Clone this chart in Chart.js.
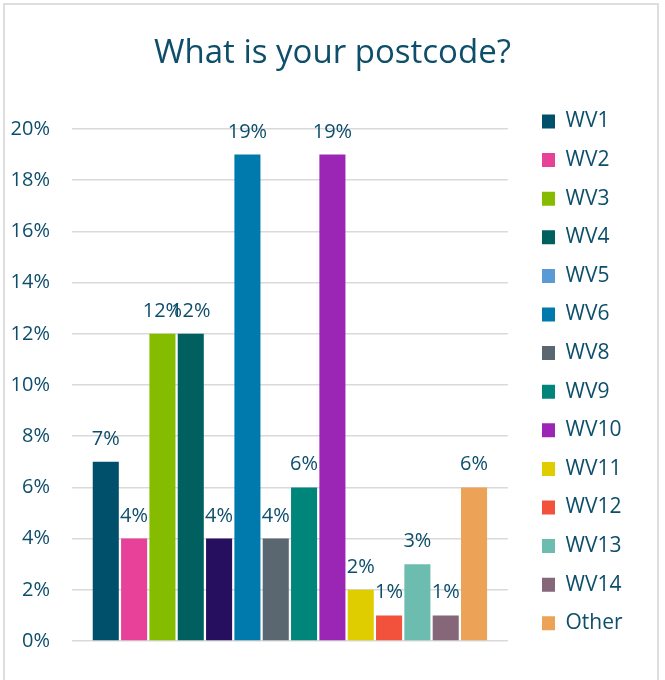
<!DOCTYPE html>
<html>
<head>
<meta charset="utf-8">
<script src="https://cdn.jsdelivr.net/npm/chart.js@4/dist/chart.umd.min.js"></script>
<style>
  html, body { margin: 0; padding: 0; background: #fff; }
  #wrap { position: relative; width: 665px; height: 680px; overflow: hidden; }
  #frame { position: absolute; left: 3px; top: 3px; width: 652px; height: 700px;
           border: 2px solid #dedede; pointer-events: none; }
  canvas { position: absolute; left: 0; top: 0; }
</style>
</head>
<body>
<div id="wrap">
  <canvas id="chart-postcode" width="665" height="680"></canvas>
  <div id="frame"></div>
</div>
<script>
var postcodes = ['WV1', 'WV2', 'WV3', 'WV4', 'WV5', 'WV6', 'WV8', 'WV9', 'WV10', 'WV11', 'WV12', 'WV13', 'WV14', 'Other'];
var shares = [7, 4, 12, 12, 4, 19, 4, 6, 19, 2, 1, 3, 1, 6];
var barColours = ['#004f6b', '#e8419a', '#86bc00', '#00605f', '#260f5f', '#007aad',
                  '#5a6670', '#00857b', '#9b26b5', '#e0cd00', '#f2513b', '#6dbcb0', '#866679', '#eca257'];
// the legend swatch for WV5 differs from its bar in the original
var legendColours = barColours.slice();
legendColours[4] = '#5b9bd5';

var textColour = '#0d4e6b';
var fontFamily = "'Open Sans', 'Noto Sans', sans-serif";

var datasetsPostcode = postcodes.map(function(name, i) {
    return {
        label: name,
        data: [shares[i]],
        backgroundColor: barColours[i],
        categoryPercentage: 0.91,
        barPercentage: 0.92
    };
});

// value labels above each bar
var barValueLabels = {
    id: 'barValueLabels',
    afterDatasetsDraw: function(chart) {
        var ctx = chart.ctx;
        ctx.save();
        ctx.fillStyle = textColour;
        ctx.font = '20px ' + fontFamily;
        ctx.textAlign = 'center';
        ctx.textBaseline = 'alphabetic';
        chart.data.datasets.forEach(function(ds, i) {
            var bar = chart.getDatasetMeta(i).data[0];
            ctx.fillText(ds.data[0] + '%', bar.x, bar.y - 17);
        });
        ctx.restore();
    }
};

// title centred on the whole card, legend column placed as in the original
var blockPlacement = {
    id: 'blockPlacement',
    afterLayout: function(chart) {
        var t = chart.titleBlock;
        t.left = 0;
        t.right = chart.width;
        t.width = chart.width;

        var lg = chart.legend;
        var pad = lg.options.labels.padding;
        var w = lg.width;
        lg.left = 542 - pad;
        lg.right = lg.left + w;
        lg.top = 111 - pad;
        lg.bottom = chart.height;
        lg.height = lg.bottom - lg.top;
    }
};

var configPostcode = {
    type: 'bar',
    data: {
        labels: [''],
        datasets: datasetsPostcode
    },
    options: {
        responsive: false,
        animation: false,
        layout: {
            padding: { left: 10, right: 49, top: 0, bottom: 39 }
        },
        scales: {
            x: { display: false },
            y: {
                min: 0,
                max: 20,
                border: { display: false },
                grid: { color: '#d9d9d9', lineWidth: 1.5, drawTicks: false },
                ticks: {
                    stepSize: 2,
                    padding: 22,
                    color: textColour,
                    font: { family: fontFamily, size: 20 },
                    callback: function(v) { return v + '%'; }
                },
                afterFit: function(scale) { scale.width = 62; }
            }
        },
        plugins: {
            title: {
                display: true,
                text: 'What is your postcode?',
                color: textColour,
                font: { family: fontFamily, size: 33, weight: 'normal' },
                padding: { top: 34, bottom: 55.4 }
            },
            legend: {
                position: 'right',
                align: 'start',
                fullSize: true,
                labels: {
                    boxWidth: 13,
                    boxHeight: 14,
                    padding: 17.6,
                    color: textColour,
                    font: { family: fontFamily, size: 21 },
                    generateLabels: function(chart) {
                        return chart.data.datasets.map(function(ds, i) {
                            return {
                                text: ds.label,
                                fillStyle: legendColours[i],
                                strokeStyle: legendColours[i],
                                lineWidth: 0,
                                fontColor: textColour,
                                hidden: false,
                                datasetIndex: i
                            };
                        });
                    }
                }
            },
            tooltip: { enabled: false }
        }
    },
    plugins: [barValueLabels, blockPlacement]
};

var ctxPostcode = document.getElementById('chart-postcode').getContext('2d');
window.postcodeChart = new Chart(ctxPostcode, configPostcode);
</script>
</body>
</html>
